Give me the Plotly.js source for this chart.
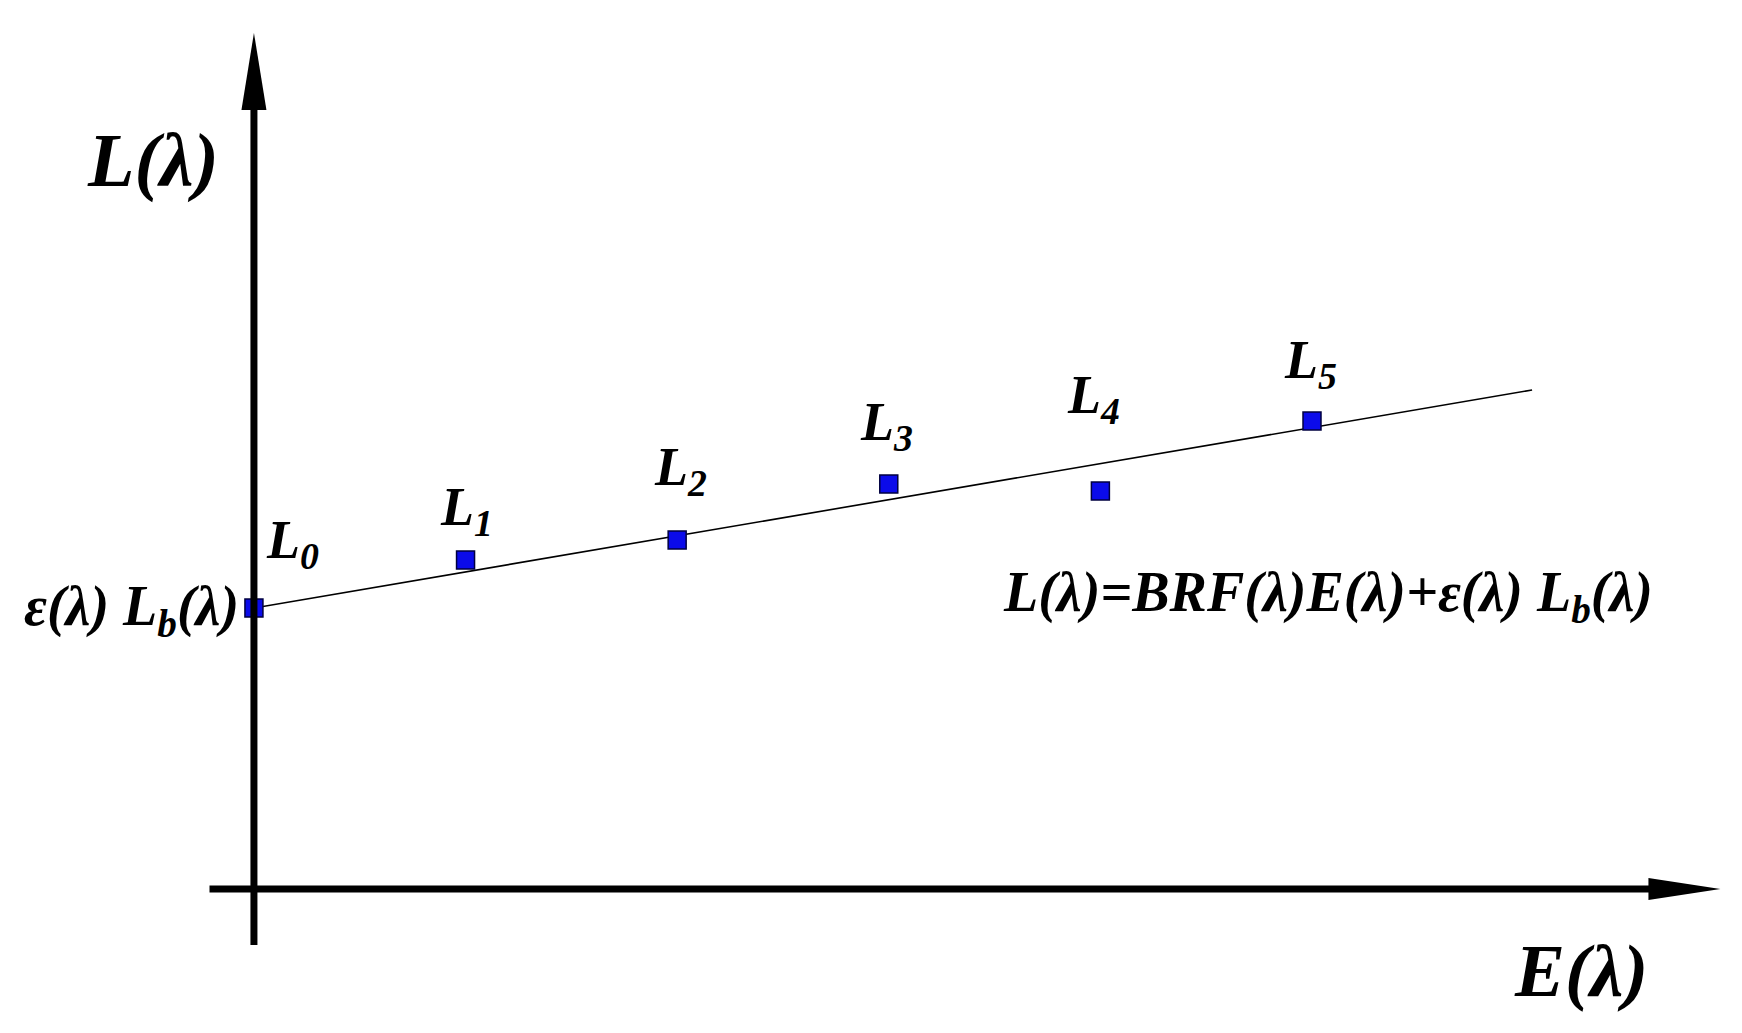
<!DOCTYPE html>
<html>
<head>
<meta charset="utf-8">
<script src="https://cdn.plot.ly/plotly-3.0.1.min.js"></script>
<style>
  html, body { margin: 0; padding: 0; background: #fff; }
  #plot { width: 1742px; height: 1033px; }
</style>
</head>
<body>
<div id="plot"></div>
<script>
// Puntos medidos L0..L5 (unidades arbitrarias)
const pointNames = ["L<sub>0</sub>", "L<sub>1</sub>", "L<sub>2</sub>", "L<sub>3</sub>", "L<sub>4</sub>", "L<sub>5</sub>"];
const irradiance = [0, 1, 2, 3, 4, 5];
const radiance = [2.81, 3.29, 3.49, 4.05, 3.98, 4.68];

// Recta L = BRF*E + eps*Lb
const fitE = [0, 6.04];
const fitL = [2.81, 4.99];

// Extension de los ejes (arranque y punta de flecha)
const axisE = [-0.21, 6.93];
const axisL = [-0.56, 8.56];

// Textos
const yTitle = "L(λ)";
const xTitle = "E(λ)";
const interceptText = "ε(λ) L<sub>b</sub>(λ)";
const formulaText = "L(λ)=BRF(λ)E(λ)+ε(λ) L<sub>b</sub>(λ)";

const xRange = [-1.2, 7.032];
const yRange = [-1.44, 8.89];
const pxPerE = 1742 / (xRange[1] - xRange[0]);
const pxPerL = 1033 / (yRange[1] - yRange[0]);

// desplazamiento de cada etiqueta respecto a su punto (px)
const labelShift = [[39, 65], [1, 50], [3, 70], [-2, 59], [-7, 93], [-2, 58]];

const serif = "Liberation Serif, Times New Roman, serif";
const boldItalic = (size) => ({ family: serif, size: size, color: "#000", weight: "bold", style: "italic" });

const headLenY = 77, headHalfY = 12.5;
const headLenX = 72, headHalfX = 11;

const traces = [
  {
    x: fitE, y: fitL,
    type: "scatter", mode: "lines",
    line: { color: "#000", width: 1.6 },
    hoverinfo: "skip"
  },
  {
    x: irradiance, y: radiance,
    type: "scatter", mode: "markers",
    marker: { symbol: "square", size: 18, color: "#0b0bea", line: { color: "#000040", width: 1.5 } }
  }
];

const shapes = [
  // eje x
  { type: "line", x0: axisE[0], x1: axisE[1] - (headLenX - 4) / pxPerE, y0: 0, y1: 0,
    line: { color: "#000", width: 7 } },
  // eje y
  { type: "line", x0: 0, x1: 0, y0: axisL[0], y1: axisL[1] - (headLenY - 4) / pxPerL,
    line: { color: "#000", width: 7 } },
  // puntas de flecha
  { type: "path", xsizemode: "pixel", ysizemode: "pixel", xanchor: 0, yanchor: axisL[1],
    path: `M 0 0 L ${-headHalfY} ${-headLenY} L ${headHalfY} ${-headLenY} Z`,
    fillcolor: "#000", line: { width: 0 } },
  { type: "path", xsizemode: "pixel", ysizemode: "pixel", xanchor: axisE[1], yanchor: 0,
    path: `M 0 0 L ${-headLenX} ${headHalfX} L ${-headLenX} ${-headHalfX} Z`,
    fillcolor: "#000", line: { width: 0 } }
];

const annotations = [
  { x: -0.477, y: 7.29, text: yTitle, showarrow: false, font: boldItalic(76), xanchor: "center", yanchor: "middle" },
  { x: 6.27, y: -0.81, text: xTitle, showarrow: false, font: boldItalic(75), xanchor: "center", yanchor: "middle" },
  { x: -0.06, y: 2.79, text: interceptText, showarrow: false, font: boldItalic(56), xanchor: "right", yanchor: "middle" },
  { x: 3.53, y: 2.93, text: formulaText, showarrow: false, font: boldItalic(56), xanchor: "left", yanchor: "middle" }
];

pointNames.forEach((name, i) => {
  annotations.push({
    x: irradiance[i], y: radiance[i], text: name, showarrow: false,
    font: boldItalic(54), xanchor: "center", yanchor: "middle",
    xshift: labelShift[i][0], yshift: labelShift[i][1]
  });
});

const layout = {
  width: 1742, height: 1033,
  margin: { l: 0, r: 0, t: 0, b: 0 },
  paper_bgcolor: "#fff", plot_bgcolor: "#fff",
  showlegend: false,
  xaxis: { range: xRange, visible: false, fixedrange: true },
  yaxis: { range: yRange, visible: false, fixedrange: true },
  shapes: shapes,
  annotations: annotations
};

Plotly.newPlot("plot", traces, layout, { staticPlot: true });
</script>
</body>
</html>
